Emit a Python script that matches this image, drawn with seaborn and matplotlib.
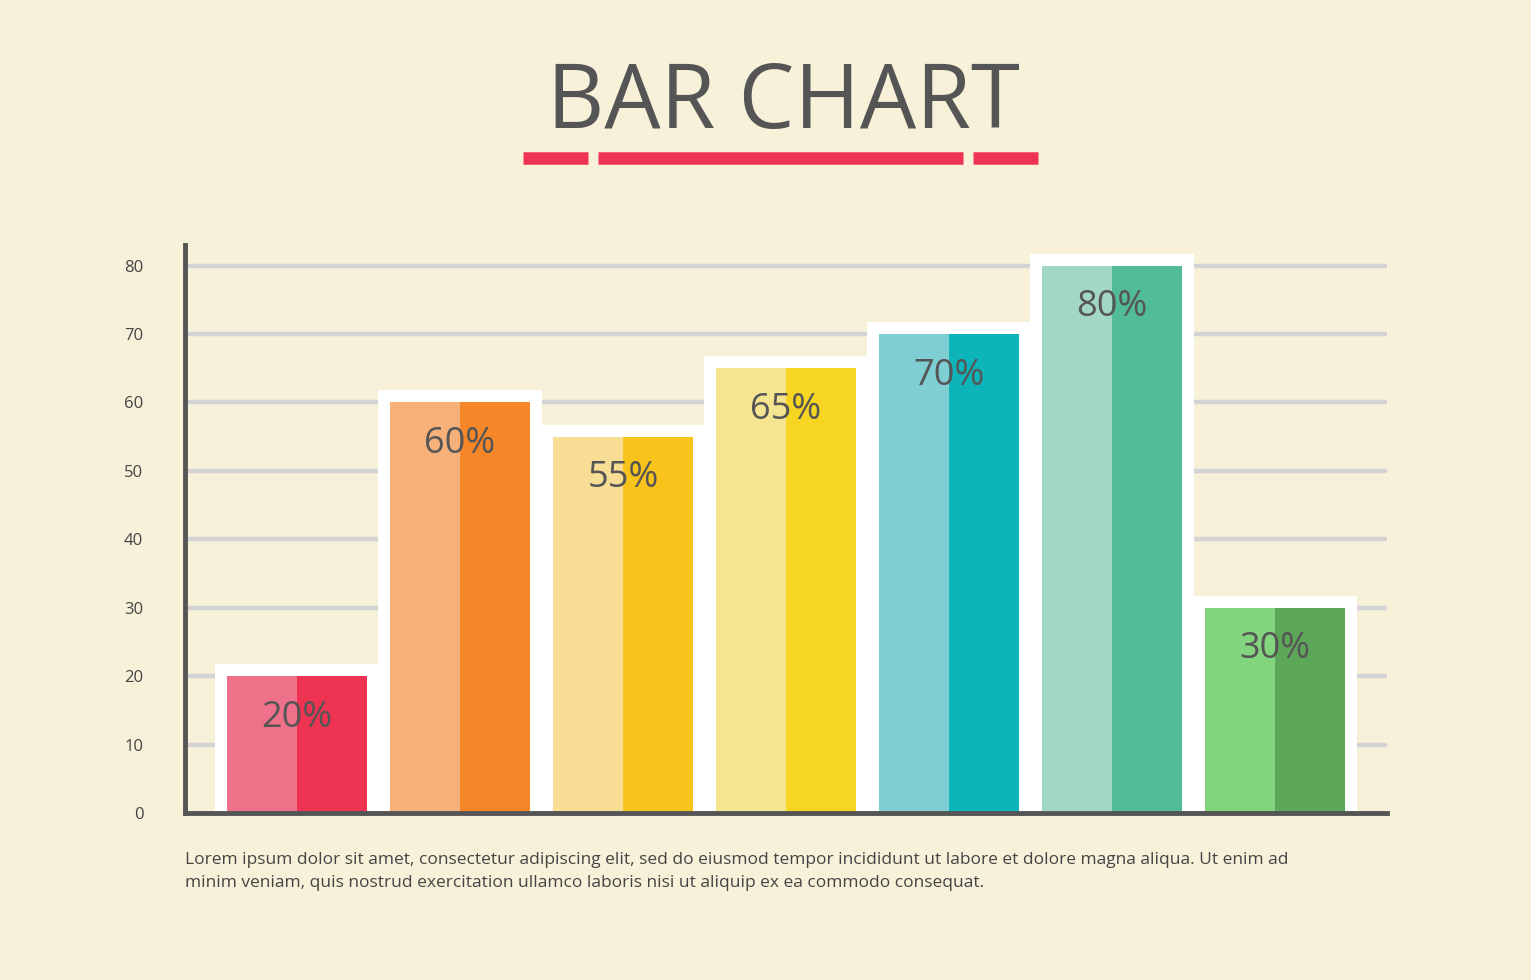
import matplotlib
matplotlib.use("Agg")
import matplotlib.pyplot as plt
import seaborn as sns
import pandas as pd

categories = ["A", "B", "C", "D", "E", "F", "G"]
values = [20, 60, 55, 65, 70, 80, 30]
labels = ["20%", "60%", "55%", "65%", "70%", "80%", "30%"]
light = ["#EE7189", "#F6B07A", "#F8DE94", "#F6E590", "#7ECED4", "#A2D6C5", "#83D47E"]
dark = ["#EE3353", "#F58728", "#F8C41C", "#F6D523", "#0DB4BA", "#52BB9A", "#5DA858"]
yticks = [0, 10, 20, 30, 40, 50, 60, 70, 80]

bg = "#F8F1DA"
fig = plt.figure(figsize=(15.31, 9.8), dpi=100, facecolor=bg)
ax = fig.add_axes([185/1531, 1-813/980, (1387-185)/1531, (813-245)/980])
ax.set_facecolor(bg)
df = pd.DataFrame({"cat": categories, "val": values})

pxu = 163.0
w = 140/pxu
bx = 12/pxu
by = 12/6.85
# white borders
ax.bar(range(7), [v + by for v in values], width=w + 2*bx, color="white", zorder=2)
sns.barplot(data=df, x="cat", y="val", hue="cat", palette=dark, legend=False,
            width=w, ax=ax, zorder=3, saturation=1)
ax.bar([i - w/4 for i in range(7)], values, width=w/2, color=light, zorder=4)
for i, (v, t) in enumerate(zip(values, labels)):
    ax.text(i, v - 6.1, t, ha="center", va="center", fontsize=26, color="#555555",
            family="Open Sans", zorder=5)

ax.set_xlim(-0.687, 6.687)
ax.set_ylim(0, 83)
ax.set_yticks(yticks)
ax.set_yticklabels([str(t) for t in yticks], fontsize=12, color="#444444", family="Open Sans")
ax.tick_params(axis="y", length=0, pad=30)
ax.set_xticks([])
ax.set_xlabel(""); ax.set_ylabel("")
for y in yticks[1:]:
    ax.axhline(y, color="#D3D3D3", lw=3.2, zorder=1)
for s in ["top", "right"]:
    ax.spines[s].set_visible(False)
for s in ["left", "bottom"]:
    ax.spines[s].set_color("#555555")
    ax.spines[s].set_linewidth(3.5)
    ax.spines[s].set_zorder(6)

fig.text(783/1531, 1-105/980, "BAR CHART", ha="center", va="center", fontsize=64,
         color="#555555", family="Open Sans")
for x0, x1 in [(523, 588), (598, 963), (973, 1038)]:
    fig.add_artist(plt.Line2D([x0/1531, x1/1531], [1-158/980]*2, color="#EE3353", lw=9,
                              solid_capstyle="butt"))
fig.text(185/1531, 1-860/980,
         "Lorem ipsum dolor sit amet, consectetur adipiscing elit, sed do eiusmod tempor incididunt ut labore et dolore magna aliqua. Ut enim ad",
         fontsize=12.5, color="#444444", family="Open Sans", va="center")
fig.text(185/1531, 1-883/980,
         "minim veniam, quis nostrud exercitation ullamco laboris nisi ut aliquip ex ea commodo consequat.",
         fontsize=12.5, color="#444444", family="Open Sans", va="center")
fig.savefig("out.png", dpi=100, facecolor=bg)
